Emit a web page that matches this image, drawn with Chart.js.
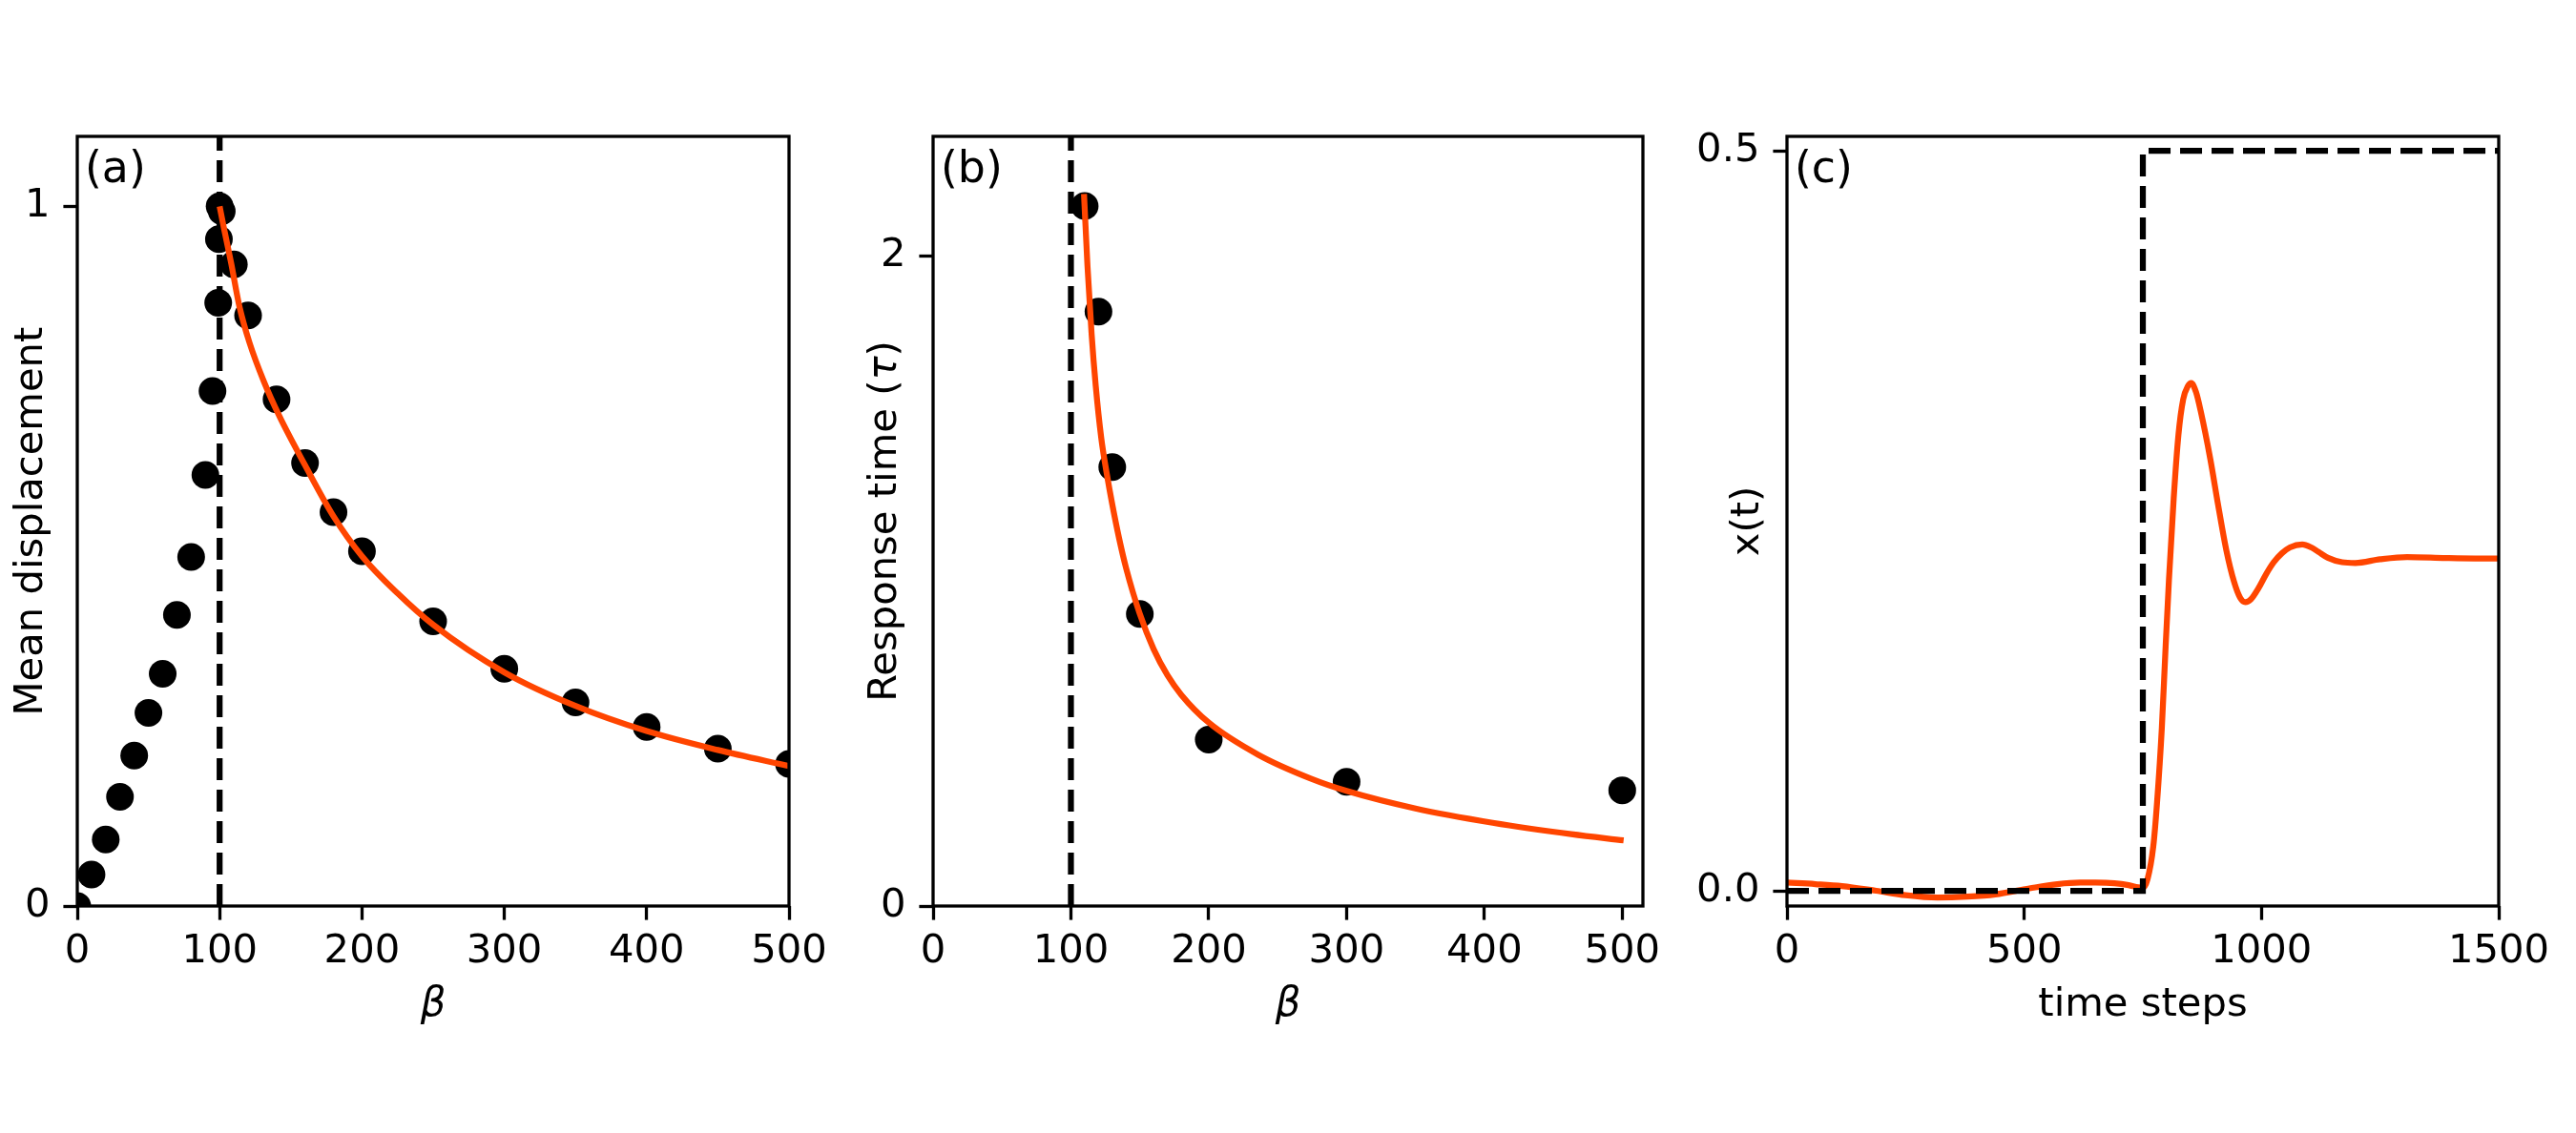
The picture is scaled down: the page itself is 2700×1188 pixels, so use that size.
<!DOCTYPE html>
<html>
<head>
<meta charset="utf-8">
<script src="https://cdn.jsdelivr.net/npm/chart.js@4.4.1/dist/chart.umd.min.js"></script>
<style>
  html, body { margin: 0; padding: 0; background: #fff; }
  #fig { position: relative; width: 2700px; height: 1188px; }
  #fig canvas { position: absolute; top: 0; }
</style>
</head>
<body>
<div id="fig">
  <canvas id="panelA" width="900" height="1188" style="left:0px"></canvas>
  <canvas id="panelB" width="860" height="1188" style="left:900px"></canvas>
  <canvas id="panelC" width="940" height="1188" style="left:1760px"></canvas>
</div>
<script>
// (a) mean displacement vs beta
const betaA = [0, 10, 20, 30, 40, 50, 60, 70, 80, 90, 95, 99, 99.5, 100, 101.5, 110, 120, 140, 160, 180, 200, 250, 300, 350, 400, 450, 500];
const dispA = [0.0, 0.045, 0.095, 0.156, 0.215, 0.276, 0.332, 0.416, 0.499, 0.616, 0.736, 0.862, 0.953, 1.0, 0.993, 0.917, 0.844, 0.724, 0.633, 0.563, 0.507, 0.407, 0.339, 0.291, 0.256, 0.225, 0.203];
const fitBetaA = [100, 103, 108, 114, 121, 131, 142, 160, 180, 200, 225, 250, 300, 350, 400, 450, 500];
const fitDispA = [1.0, 0.969, 0.92, 0.856, 0.805, 0.750, 0.700, 0.630, 0.557, 0.500, 0.447, 0.402, 0.334, 0.286, 0.250, 0.223, 0.200];

// (b) response time vs beta
const betaB = [110, 120, 130, 150, 200, 300, 500];
const tauB = [2.153, 1.828, 1.35, 0.898, 0.512, 0.382, 0.356];
const fitBetaB = [109.5, 112, 115, 118, 122, 126, 130, 135, 140, 150, 160, 170, 180, 200, 236, 274, 300, 350, 406, 463, 501];
const fitTauB = [2.19, 1.97, 1.76, 1.60, 1.44, 1.33, 1.235, 1.13, 1.04, 0.898, 0.79, 0.71, 0.65, 0.564, 0.465, 0.392, 0.354, 0.300, 0.256, 0.221, 0.202];

// (c) x(t) over time steps
const timeC = [0, 60, 116, 188, 250, 317, 380, 439, 511, 570, 618, 650, 690, 720, 740, 750, 760, 772, 780, 790,
  798, 805, 815, 825, 835, 845, 852, 862, 872, 892, 909, 926, 942, 955, 966, 978, 993, 1010, 1026, 1043,
  1060, 1086, 1105, 1120, 1140, 1170, 1198, 1250, 1307, 1388, 1450, 1500];
const xC = [0.0055, 0.0045, 0.0032, 0.0, -0.003, -0.0046, -0.004, -0.0025, 0.0016, 0.0045, 0.0055, 0.0055, 0.0051, 0.0038, 0.0023, 0.002, 0.008, 0.03, 0.06, 0.11,
  0.165, 0.21, 0.265, 0.308, 0.332, 0.341, 0.343, 0.337, 0.324, 0.292, 0.26, 0.23, 0.209, 0.198, 0.195, 0.197, 0.204, 0.214, 0.222, 0.228,
  0.232, 0.234, 0.232, 0.229, 0.225, 0.222, 0.2215, 0.224, 0.2255, 0.2248, 0.2245, 0.2245];
const stepTime = [0, 750, 750, 1500];
const stepX = [0, 0, 0.5, 0.5];

// critical beta (dashed vertical line)
const critBeta = [100, 100];

// axis ranges and ticks
const yMaxA = 1.1, yMaxB = 2.367, xMaxB = 515;
const yMinC = -0.0103, yMaxC = 0.5097;
const xTicksAB = [0, 100, 200, 300, 400, 500];
const yTicksA = [0, 1];
const yTicksB = [0, 2];
const xTicksC = [0, 500, 1000, 1500];
const yTicksC = [0, 0.5];

const FONT = 41.7;
const LABEL_FONT = 45.8;
const RED = '#ff4500';
Chart.defaults.font.family = "'DejaVu Sans', sans-serif";
Chart.defaults.font.size = FONT;
Chart.defaults.color = '#000';

const pts = (xs, ys) => xs.map((x, i) => ({ x: x, y: ys[i] }));

// frame on all four sides + panel letter (+ optional mixed-style y title)
const frame = {
  id: 'frame',
  afterDatasetsDraw(chart, args, opts) {
    const { ctx, chartArea: a } = chart;
    ctx.save();
    ctx.strokeStyle = '#000';
    ctx.lineWidth = 3.3;
    ctx.strokeRect(a.left, a.top, a.right - a.left, a.bottom - a.top);
    ctx.font = LABEL_FONT + "px 'DejaVu Sans'";
    ctx.fillStyle = '#000';
    ctx.textBaseline = 'alphabetic';
    ctx.fillText(opts.label, a.left + 8, a.top + 48);
    if (opts.yTitle) {
      const parts = opts.yTitle;
      const fontOf = p => (p.italic ? 'italic ' : '') + FONT + "px 'DejaVu Sans'";
      let total = 0;
      parts.forEach(p => { ctx.font = fontOf(p); total += ctx.measureText(p.text).width; });
      ctx.translate(opts.yTitleX, (a.top + a.bottom) / 2);
      ctx.rotate(-Math.PI / 2);
      ctx.textBaseline = 'middle';
      ctx.textAlign = 'left';
      let x = -total / 2;
      parts.forEach(p => { ctx.font = fontOf(p); ctx.fillText(p.text, x, 0); x += ctx.measureText(p.text).width; });
    }
    ctx.restore();
  }
};

function axis(min, max, ticks, fmt, title, italic, fitSize, horizontal, titlePad) {
  return {
    type: 'linear',
    min: min,
    max: max,
    border: { display: false },
    grid: { drawOnChartArea: false, drawTicks: true, tickLength: 14.6, tickWidth: 3.3, tickColor: '#000' },
    ticks: { padding: horizontal ? 9 : 14, maxRotation: 0, autoSkip: false, callback: fmt },
    title: { display: title !== null, text: title || '', font: { size: FONT, style: italic ? 'italic' : 'normal' }, padding: titlePad },
    afterBuildTicks: s => { s.ticks = ticks.map(v => ({ value: v })); },
    afterFit: s => {
      if (horizontal) { s.height = fitSize; s.paddingLeft = 0; s.paddingRight = 0; }
      else { s.width = fitSize; s.paddingTop = 0; s.paddingBottom = 0; }
    }
  };
}

function makeChart(id, datasets, scales, padRight, frameOpts) {
  return new Chart(document.getElementById(id), {
    type: 'line',
    data: { datasets: datasets },
    options: {
      responsive: false,
      animation: false,
      devicePixelRatio: 1,
      events: [],
      layout: { padding: { left: 0, top: 143, right: padRight, bottom: 98 } },
      plugins: { legend: { display: false }, tooltip: { enabled: false }, frame: frameOpts },
      scales: scales
    },
    plugins: [frame]
  });
}

const lineStyle = (color, dash) => ({
  borderColor: color, borderWidth: 6.25, borderDash: dash || [], pointRadius: 0, fill: false, clip: 0
});
const dotStyle = { showLine: false, pointRadius: 14.5, pointBorderWidth: 0, pointBackgroundColor: '#000', borderColor: '#000', clip: 0 };

makeChart('panelA', [
  Object.assign({ data: pts(fitBetaA, fitDispA), order: 1, cubicInterpolationMode: 'monotone' }, lineStyle(RED)),
  Object.assign({ data: pts(betaA, dispA), order: 2 }, dotStyle),
  Object.assign({ data: pts(critBeta, [0, yMaxA]), order: 3 }, lineStyle('#000', [23, 10]))
], {
  x: axis(0, 500, xTicksAB, v => String(v), 'β', true, 140, true, { top: 0, bottom: 11 }),
  y: axis(0, yMaxA, yTicksA, v => String(v), 'Mean displacement', false, 81, false, { top: 8, bottom: 0 })
}, 73, { label: '(a)' });

makeChart('panelB', [
  Object.assign({ data: pts(fitBetaB, fitTauB), order: 1, cubicInterpolationMode: 'monotone' }, lineStyle(RED)),
  Object.assign({ data: pts(betaB, tauB), order: 2 }, dotStyle),
  Object.assign({ data: pts(critBeta, [0, yMaxB]), order: 3 }, lineStyle('#000', [23, 10]))
], {
  x: axis(0, xMaxB, xTicksAB, v => String(v), 'β', true, 140, true, { top: 0, bottom: 11 }),
  y: axis(0, yMaxB, yTicksB, v => String(v), null, false, 78, false, { top: 3, bottom: 0 })
}, 38, {
  label: '(b)',
  yTitleX: 28,
  yTitle: [{ text: 'Response time (', italic: false }, { text: 'τ', italic: true }, { text: ')', italic: false }]
});

makeChart('panelC', [
  Object.assign({ data: pts(stepTime, stepX), order: 1 }, lineStyle('#000', [23, 10])),
  Object.assign({ data: pts(timeC, xC), order: 2, cubicInterpolationMode: 'monotone' }, lineStyle(RED))
], {
  x: axis(0, 1500, xTicksC, v => String(v), 'time steps', false, 140, true, { top: 0, bottom: 11 }),
  y: axis(yMinC, yMaxC, yTicksC, v => v.toFixed(1), 'x(t)', false, 113, false, { top: 47, bottom: 0 })
}, 81, { label: '(c)' });
</script>
</body>
</html>
